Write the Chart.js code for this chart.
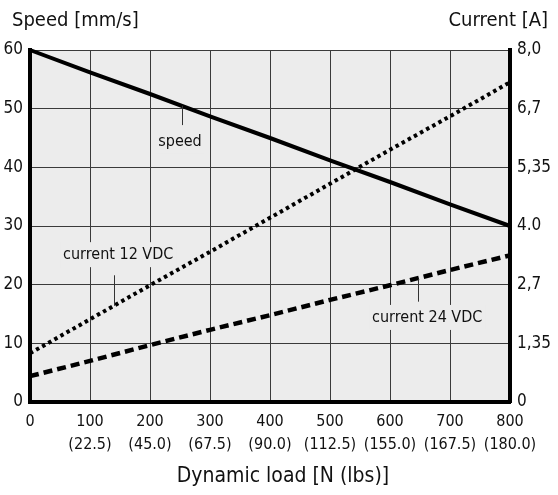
<!DOCTYPE html>
<html>
<head>
<meta charset="utf-8">
<script src="https://cdn.jsdelivr.net/npm/chart.js@4.4.1/dist/chart.umd.min.js"></script>
<style>
  html, body { margin: 0; padding: 0; background: #fff; }
  #wrap { width: 558px; height: 495px; position: relative; }
</style>
</head>
<body>
<div id="wrap"><canvas id="c" width="558" height="495"></canvas></div>
<script>
const loads = [0, 100, 200, 300, 400, 500, 600, 700, 800];
const lbsLabels = ['', '(22.5)', '(45.0)', '(67.5)', '(90.0)', '(112.5)', '(155.0)', '(167.5)', '(180.0)'];
const speed = [60, 56.2, 52.5, 48.7, 45, 41.2, 37.5, 33.7, 30];
const current12 = [8.3, 14.1, 19.9, 25.6, 31.4, 37.2, 43.0, 48.7, 54.5];
const current24 = [4.4, 7.0, 9.7, 12.3, 14.8, 17.4, 19.9, 22.5, 25.0];
const rightTickLabels = ['0', '1,35', '2,7', '4.0', '5,35', '6,7', '8,0'];
const labelTexts = ['speed', 'current 12 VDC', 'current 24 VDC'];

const FONT = '"Liberation Sans Narrow", "DejaVu Sans Condensed", "Roboto Condensed", sans-serif';

function pts(arr) { return loads.map((x, i) => ({ x: x, y: arr[i] })); }

// annotation anchors in data units
const annos = [
  { text: labelTexts[0], tx: 250, ty: 44.6, lx: 253, ly1: 50.5, ly2: 47.2 },
  { text: labelTexts[1], tx: 147, ty: 25.2, lx: 140, ly1: 21.6, ly2: 16.4 },
  { text: labelTexts[2], tx: 662, ty: 14.5, lx: 647, ly1: 21.0, ly2: 17.1 }
];

const bgPlugin = {
  id: 'bg',
  beforeDraw(chart) {
    const a = chart.chartArea, ctx = chart.ctx;
    ctx.save();
    ctx.fillStyle = '#ececec';
    ctx.fillRect(a.left, a.top, a.right - a.left, a.bottom - a.top);
    ctx.restore();
  },
  afterDatasetsDraw(chart) {
    const ctx = chart.ctx, xs = chart.scales.x, ys = chart.scales.y;
    ctx.save();
    ctx.font = '16px ' + FONT;
    ctx.textAlign = 'center';
    ctx.textBaseline = 'middle';
    annos.forEach(an => {
      const cx = xs.getPixelForValue(an.tx), cy = ys.getPixelForValue(an.ty);
      const w = ctx.measureText(an.text).width;
      ctx.fillStyle = '#ececec';
      ctx.fillRect(cx - w / 2 - 3, cy - 12, w + 6, 25);
      ctx.fillStyle = '#111';
      ctx.fillText(an.text, cx, cy + 1);
      ctx.strokeStyle = '#333';
      ctx.lineWidth = 1;
      const lx = Math.round(xs.getPixelForValue(an.lx)) + 0.5;
      ctx.beginPath();
      ctx.moveTo(lx, ys.getPixelForValue(an.ly1));
      ctx.lineTo(lx, ys.getPixelForValue(an.ly2));
      ctx.stroke();
    });
    ctx.restore();
  },
  afterDraw(chart) {
    const ctx = chart.ctx, a = chart.chartArea;
    ctx.save();
    ctx.fillStyle = '#111';
    ctx.font = '20px ' + FONT;
    ctx.textBaseline = 'middle';
    ctx.textAlign = 'left';
    ctx.fillText('Speed [mm/s]', 12, 21);
    ctx.textAlign = 'right';
    ctx.fillText('Current [A]', 548, 21);
    ctx.textAlign = 'center';
    ctx.font = '21px ' + FONT;
    ctx.fillText('Dynamic load [N (lbs)]', 283, 477);
    ctx.restore();
  }
};

new Chart(document.getElementById('c'), {
  type: 'line',
  data: {
    datasets: [
      { label: 'speed', data: pts(speed), borderColor: '#000', borderWidth: 4, pointRadius: 0, fill: false, tension: 0, yAxisID: 'y', clip: false },
      { label: 'current 12 VDC', data: pts(current12), borderColor: '#000', borderWidth: 4, borderDash: [3.5, 3.5], pointRadius: 0, fill: false, tension: 0, yAxisID: 'y' },
      { label: 'current 24 VDC', data: pts(current24), borderColor: '#000', borderWidth: 4.5, borderDash: [9, 5], pointRadius: 0, fill: false, tension: 0, yAxisID: 'y' }
    ]
  },
  options: {
    responsive: false,
    animation: false,
    devicePixelRatio: 1,
    layout: { padding: { top: 50, left: 0, right: 0, bottom: 0 } },
    plugins: { legend: { display: false }, tooltip: { enabled: false } },
    scales: {
      x: {
        type: 'linear', min: 0, max: 800,
        afterFit(s) { s.height = 93; },
        ticks: {
          stepSize: 100, color: '#111', padding: 8,
          font: { family: FONT, size: 16, lineHeight: 1.45 },
          maxRotation: 0,
          callback(v, i) { return v === 0 ? '0' : [String(v), lbsLabels[loads.indexOf(v)]]; }
        },
        grid: { color: '#3a3a3a', lineWidth: 1, drawTicks: false },
        border: { color: '#000', width: 4 }
      },
      y: {
        position: 'left', min: 0, max: 60,
        afterFit(s) { s.width = 30; },
        ticks: { stepSize: 10, color: '#111', padding: 7, font: { family: FONT, size: 17 } },
        grid: { color: '#3a3a3a', lineWidth: 1, drawTicks: false },
        border: { color: '#000', width: 4 }
      },
      y2: {
        position: 'right', min: 0, max: 60,
        afterFit(s) { s.width = 48; },
        ticks: {
          stepSize: 10, color: '#111', padding: 7, font: { family: FONT, size: 17 },
          callback(v) { return rightTickLabels[Math.round(v / 10)]; }
        },
        grid: { display: false, drawTicks: false },
        border: { color: '#000', width: 4 }
      }
    }
  },
  plugins: [bgPlugin]
});
</script>
</body>
</html>
